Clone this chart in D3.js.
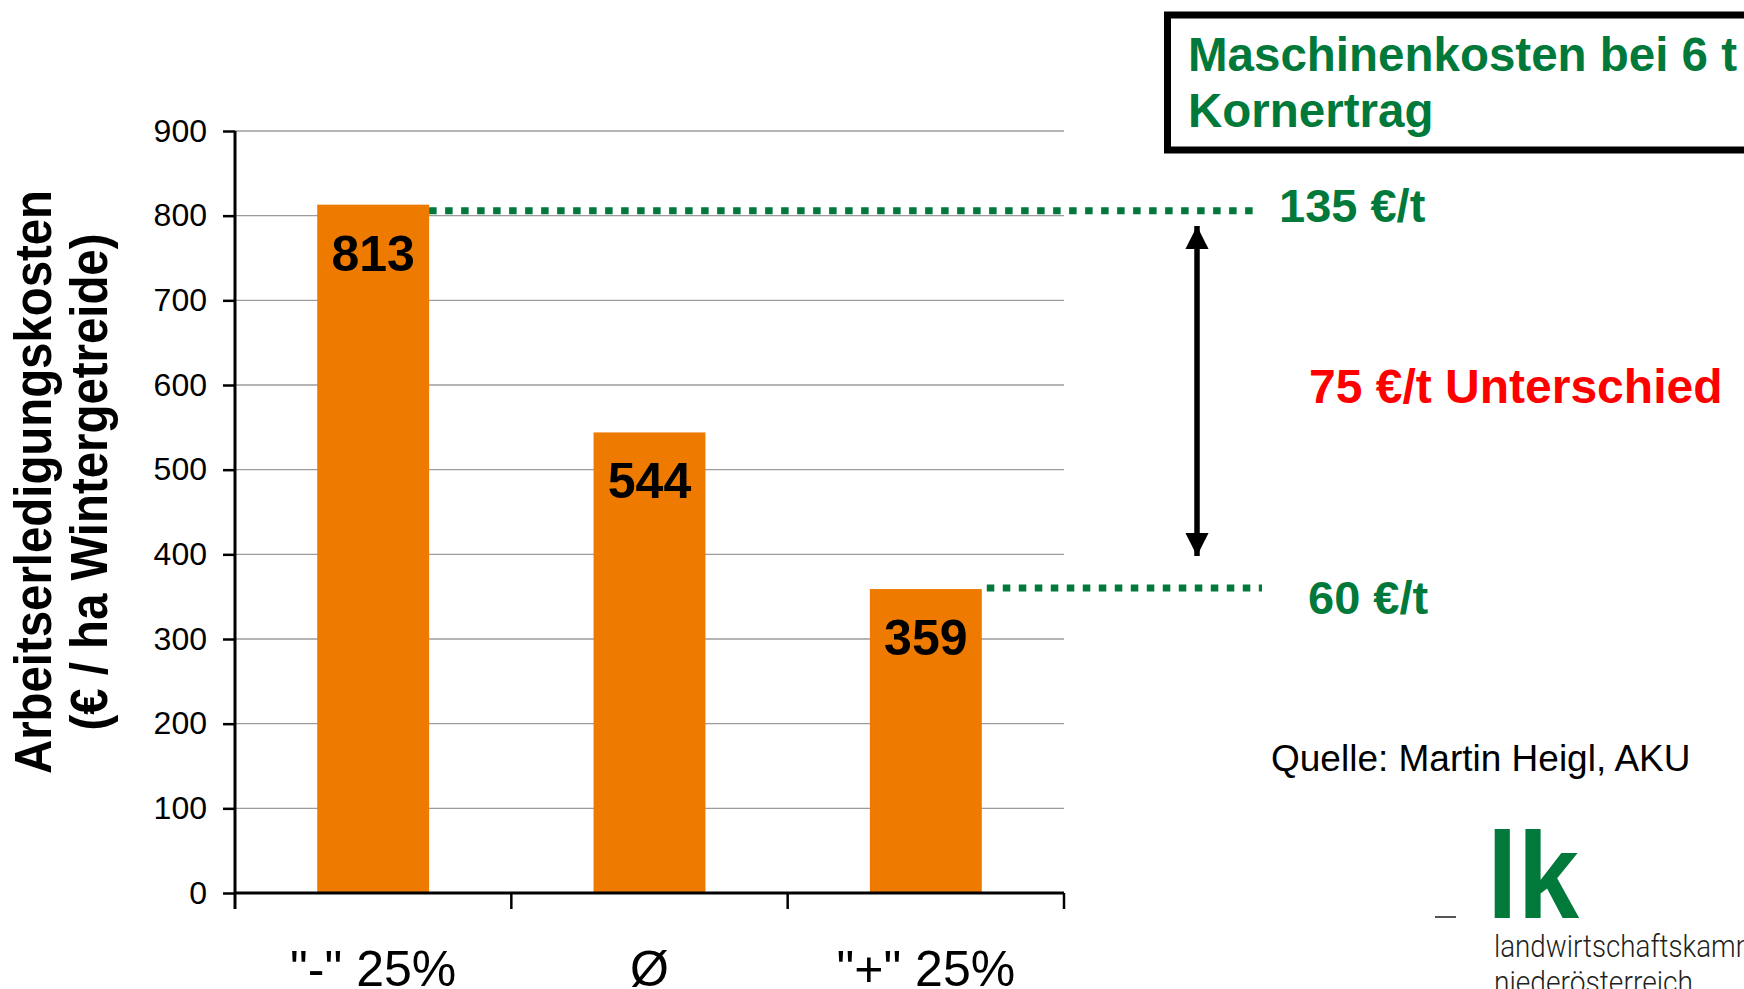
<!DOCTYPE html>
<html lang="de">
<head>
<meta charset="utf-8">
<title>Arbeitserledigungskosten Wintergetreide</title>
<script src="https://cdn.jsdelivr.net/npm/d3@7"></script>
<style>
  html, body { margin: 0; padding: 0; background: #ffffff; }
  svg { display: block; font-family: "Liberation Sans", Arial, Helvetica, sans-serif; }
</style>
</head>
<body>
<svg id="chart" width="1744" height="989"></svg>
<script>
// Kostenstufen (Kategorien) und Arbeitserledigungskosten in € / ha
const categories = ['"-" 25%', 'Ø', '"+" 25%'];
const costs = [813, 544, 359];
const yTicks = [0, 100, 200, 300, 400, 500, 600, 700, 800, 900];

// Kosten je Tonne Kornertrag (bei 6 t) für die günstigste und die teuerste Stufe
const perTonneLabels = ["135 €/t", "60 €/t"];
const perTonneIndex = [0, 2];
const differenceLabel = "75 €/t Unterschied";

const titleLines = ["Maschinenkosten bei 6 t", "Kornertrag"];
const yTitleLines = ["Arbeitserledigungskosten", "(€ / ha Wintergetreide)"];
const sourceText = "Quelle: Martin Heigl, AKU";
const logoLines = ["landwirtschaftskammer", "niederösterreich"];

const GREEN = "#00793a";
const ORANGE = "#ee7b00";
const RED = "#ff0000";

const svg = d3.select("#chart");
svg.append("rect").attr("width", 1744).attr("height", 989).attr("fill", "#fff");

const plot = { left: 235, right: 1064, top: 131, bottom: 893 };

const y = d3.scaleLinear().domain([0, 900]).range([plot.bottom, plot.top]);
const x = d3.scaleBand().domain(categories).range([plot.left, plot.right]).padding(0);
const barW = x.bandwidth() * 0.405;
const barX = c => x(c) + (x.bandwidth() - barW) / 2;

// horizontale Gitterlinien
svg.append("g")
  .selectAll("line")
  .data(yTicks.filter(t => t > 0))
  .join("line")
  .attr("x1", plot.left).attr("x2", plot.right)
  .attr("y1", d => y(d)).attr("y2", d => y(d))
  .attr("stroke", "#9c9c9c").attr("stroke-width", 1.3);

// Balken
svg.append("g")
  .selectAll("rect")
  .data(costs)
  .join("rect")
  .attr("x", (d, i) => barX(categories[i]))
  .attr("width", barW)
  .attr("y", d => y(d))
  .attr("height", d => y(0) - y(d))
  .attr("fill", ORANGE);

// Werte in den Balken
svg.append("g")
  .selectAll("text")
  .data(costs)
  .join("text")
  .attr("x", (d, i) => x(categories[i]) + x.bandwidth() / 2)
  .attr("y", d => y(d) + 66)
  .attr("text-anchor", "middle")
  .attr("font-size", 50)
  .attr("font-weight", "bold")
  .attr("fill", "#000")
  .text(d => d);

// y-Achse
const yAxis = svg.append("g")
  .attr("transform", `translate(${plot.left},0)`)
  .call(d3.axisLeft(y).tickValues(yTicks).tickSize(12).tickSizeOuter(0).tickPadding(16));
yAxis.select(".domain").remove();
yAxis.selectAll(".tick line").attr("stroke", "#000").attr("stroke-width", 2.5);
yAxis.selectAll(".tick text")
  .attr("font-size", 32)
  .attr("fill", "#000")
  .attr("font-family", "Liberation Sans, Arial, sans-serif");
svg.append("line")
  .attr("x1", plot.left).attr("x2", plot.left)
  .attr("y1", plot.top).attr("y2", plot.bottom + 16)
  .attr("stroke", "#000").attr("stroke-width", 3);

// x-Achse mit Teilstrichen an den Kategoriegrenzen
svg.append("line")
  .attr("x1", plot.left).attr("x2", plot.right)
  .attr("y1", plot.bottom).attr("y2", plot.bottom)
  .attr("stroke", "#000").attr("stroke-width", 3);
const bounds = categories.map(c => x(c)).concat([plot.right]);
svg.append("g")
  .selectAll("line")
  .data(bounds.slice(1))
  .join("line")
  .attr("x1", d => d).attr("x2", d => d)
  .attr("y1", plot.bottom).attr("y2", plot.bottom + 16)
  .attr("stroke", "#000").attr("stroke-width", 2.5);
svg.append("g")
  .selectAll("text")
  .data(categories)
  .join("text")
  .attr("x", d => x(d) + x.bandwidth() / 2)
  .attr("y", 986)
  .attr("text-anchor", "middle")
  .attr("font-size", 50)
  .attr("fill", "#000")
  .text(d => d);

// y-Achsentitel (zweizeilig, gedreht)
const yTitle = svg.append("g");
[[51, 584], [107, 497]].forEach(([bx, len], i) => {
  yTitle.append("text")
    .attr("transform", `translate(${bx},482) rotate(-90)`)
    .attr("text-anchor", "middle")
    .attr("font-size", 51)
    .attr("font-weight", "bold")
    .attr("fill", "#000")
    .attr("textLength", len)
    .attr("lengthAdjust", "spacingAndGlyphs")
    .text(yTitleLines[i]);
});

// gepunktete Hilfslinien von den Balken zu den €/t-Angaben
const guideStartGap = [0, 5];
const guideOffset = [6, -1];
const guideEnd = [1253, 1262];
svg.append("g")
  .selectAll("line")
  .data(perTonneIndex)
  .join("line")
  .attr("x1", (d, i) => barX(categories[d]) + barW + guideStartGap[i])
  .attr("x2", (d, i) => guideEnd[i])
  .attr("y1", (d, i) => y(costs[d]) + guideOffset[i])
  .attr("y2", (d, i) => y(costs[d]) + guideOffset[i])
  .attr("stroke", GREEN)
  .attr("stroke-width", 7)
  .attr("stroke-dasharray", "7.5,8.5");

// €/t-Angaben
const perTonnePos = [[1279, 222], [1308, 614]];
svg.append("g")
  .selectAll("text")
  .data(perTonneLabels)
  .join("text")
  .attr("x", (d, i) => perTonnePos[i][0])
  .attr("y", (d, i) => perTonnePos[i][1])
  .attr("font-size", 47)
  .attr("font-weight", "bold")
  .attr("fill", GREEN)
  .text(d => d);

// Doppelpfeil zwischen den beiden Werten
const defs = svg.append("defs");
defs.append("marker")
  .attr("id", "head")
  .attr("viewBox", "0 0 10 10")
  .attr("refX", 10).attr("refY", 5)
  .attr("markerWidth", 4.4).attr("markerHeight", 4.2)
  .attr("markerUnits", "strokeWidth")
  .attr("orient", "auto-start-reverse")
  .append("path")
  .attr("d", "M0,0 L10,5 L0,10 Z")
  .attr("fill", "#000");
svg.append("line")
  .attr("x1", 1197).attr("x2", 1197)
  .attr("y1", 226).attr("y2", 556)
  .attr("stroke", "#000").attr("stroke-width", 5.5)
  .attr("marker-start", "url(#head)")
  .attr("marker-end", "url(#head)");

svg.append("text")
  .attr("x", 1309).attr("y", 403)
  .attr("font-size", 48)
  .attr("font-weight", "bold")
  .attr("fill", RED)
  .text(differenceLabel);

// Titelbox oben rechts
svg.append("rect")
  .attr("x", 1167.5).attr("y", 15)
  .attr("width", 640).attr("height", 135)
  .attr("fill", "#fff")
  .attr("stroke", "#000").attr("stroke-width", 7);
svg.append("g")
  .selectAll("text")
  .data(titleLines)
  .join("text")
  .attr("x", 1188)
  .attr("y", (d, i) => 71 + i * 56)
  .attr("font-size", 47.5)
  .attr("font-weight", "bold")
  .attr("fill", GREEN)
  .text(d => d);

// Quellenangabe
svg.append("text")
  .attr("x", 1271).attr("y", 771)
  .attr("font-size", 37)
  .attr("fill", "#000")
  .text(sourceText);

// Logo der Landwirtschaftskammer
svg.append("line")
  .attr("x1", 1435).attr("x2", 1456)
  .attr("y1", 917).attr("y2", 917)
  .attr("stroke", "#555").attr("stroke-width", 2);
svg.append("text")
  .attr("x", 1487).attr("y", 918)
  .attr("font-size", 123)
  .attr("font-weight", "bold")
  .attr("fill", GREEN)
  .attr("textLength", 92)
  .attr("lengthAdjust", "spacingAndGlyphs")
  .text("lk");
const logoLengths = [290, 199];
svg.append("g")
  .selectAll("text")
  .data(logoLines)
  .join("text")
  .attr("x", 1494)
  .attr("y", (d, i) => 957 + i * 36)
  .attr("font-family", "Roboto, 'Liberation Sans', sans-serif")
  .attr("font-weight", 300)
  .attr("font-size", 31)
  .attr("fill", "#231f20")
  .attr("textLength", (d, i) => logoLengths[i])
  .attr("lengthAdjust", "spacingAndGlyphs")
  .text(d => d);
</script>
</body>
</html>
